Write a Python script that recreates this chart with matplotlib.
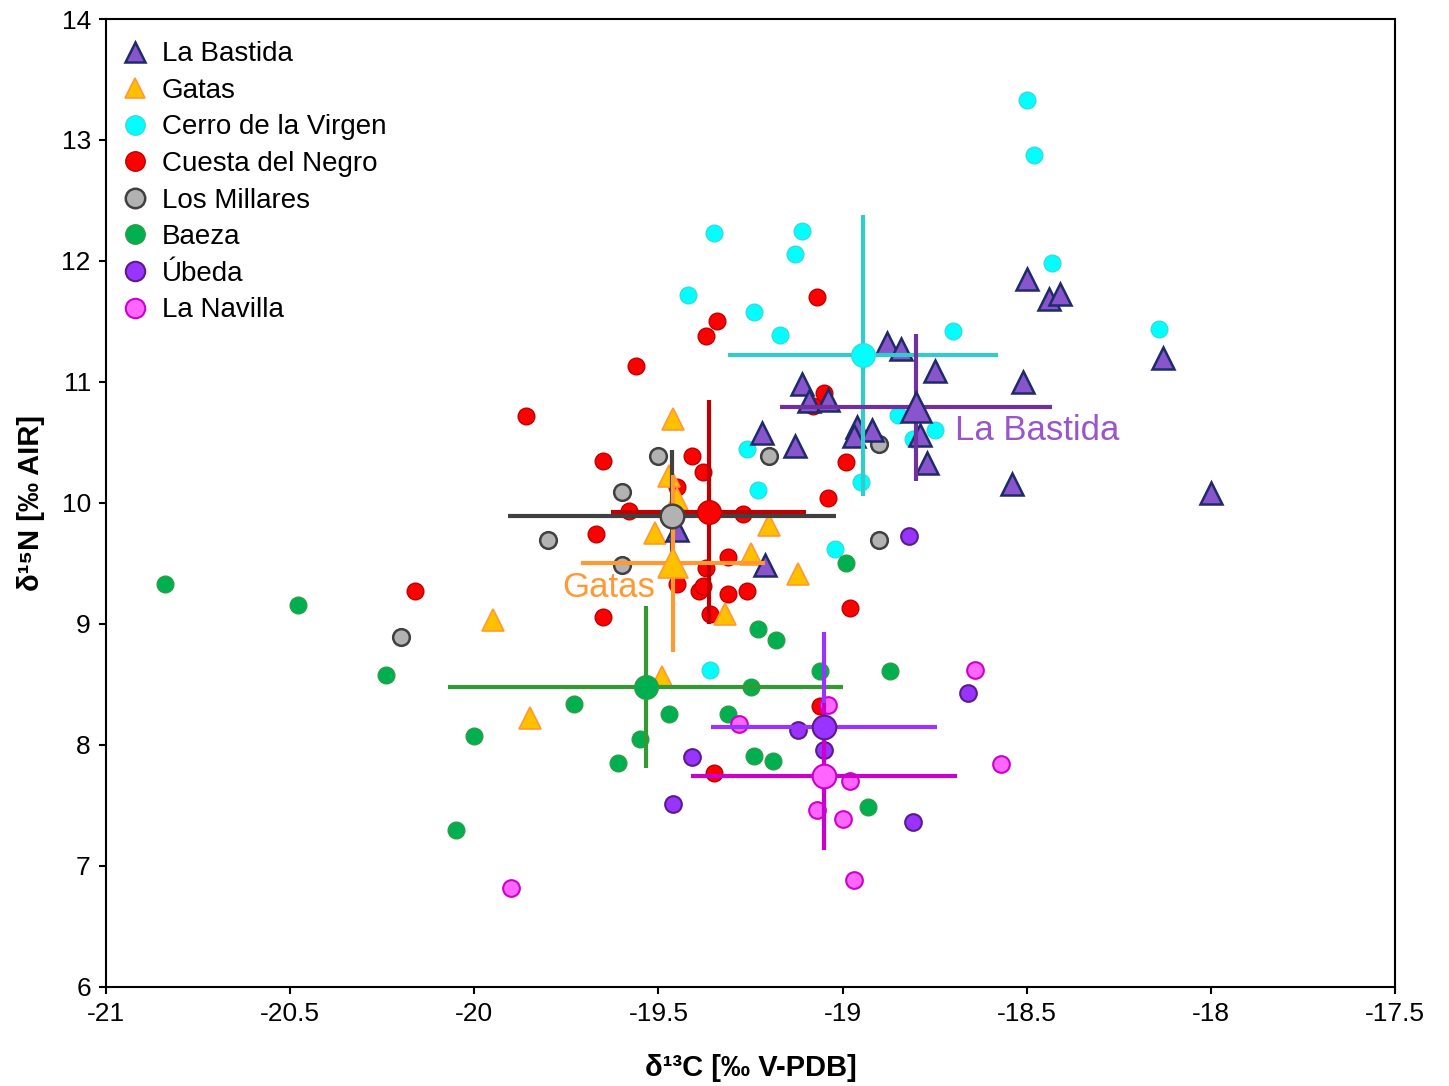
import matplotlib
matplotlib.use('Agg')
import matplotlib.pyplot as plt
from matplotlib.lines import Line2D

plt.rcParams['font.family'] = ['Liberation Sans', 'DejaVu Sans']

# individual samples (d13C, d15N)
bastida_x = [-18.50, -18.44, -18.41, -18.13, -18.51, -18.00, -18.54, -18.88, -18.84, -18.75,
             -18.79, -18.77, -19.11, -19.09, -19.04, -18.96, -18.92, -18.97, -19.13, -19.22,
             -19.45, -19.21]
bastida_y = [11.85, 11.69, 11.73, 11.20, 11.00, 10.08, 10.16, 11.32, 11.27, 11.09,
             10.56, 10.33, 10.98, 10.84, 10.85, 10.63, 10.60, 10.55, 10.47, 10.58,
             9.78, 9.49]

gatas_x = [-19.46, -19.47, -19.45, -19.51, -19.20, -19.25, -19.12, -19.32, -19.95, -19.85, -19.49]
gatas_y = [10.69, 10.22, 10.03, 9.75, 9.82, 9.58, 9.41, 9.08, 9.03, 8.22, 8.56]

cerro_x = [-18.50, -18.48, -19.35, -19.11, -19.13, -18.43, -19.42, -19.24, -18.70, -18.14,
           -19.17, -18.85, -18.75, -18.81, -19.26, -18.95, -19.23, -19.02, -19.36]
cerro_y = [13.33, 12.88, 12.23, 12.25, 12.06, 11.98, 11.72, 11.58, 11.42, 11.44,
           11.39, 10.73, 10.60, 10.53, 10.45, 10.17, 10.11, 9.62, 8.62]

cuesta_x = [-19.07, -19.34, -19.37, -19.56, -19.05, -19.08, -19.86, -19.65, -19.41, -19.38,
            -19.45, -19.58, -19.27, -18.99, -19.04, -19.67, -19.31, -19.37, -19.45, -19.39,
            -19.38, -19.31, -19.26, -19.65, -19.36, -18.98, -20.16, -19.35, -19.06]
cuesta_y = [11.70, 11.50, 11.38, 11.13, 10.91, 10.80, 10.72, 10.35, 10.39, 10.26,
            10.13, 9.93, 9.91, 10.34, 10.04, 9.74, 9.55, 9.46, 9.33, 9.27,
            9.31, 9.25, 9.27, 9.06, 9.08, 9.13, 9.27, 7.77, 8.32]

millares_x = [-19.50, -19.20, -18.90, -19.60, -19.80, -19.60, -18.90, -20.20]
millares_y = [10.39, 10.39, 10.49, 10.09, 9.69, 9.49, 9.69, 8.89]

baeza_x = [-20.84, -20.48, -20.24, -20.00, -20.05, -19.23, -19.18, -19.06, -18.87, -19.25,
           -19.73, -19.47, -19.31, -19.55, -19.61, -19.24, -19.19, -18.93, -18.99]
baeza_y = [9.33, 9.16, 8.58, 8.07, 7.30, 8.96, 8.87, 8.61, 8.61, 8.48,
           8.34, 8.26, 8.26, 8.05, 7.85, 7.91, 7.87, 7.49, 9.50]

ubeda_x = [-18.66, -19.12, -19.05, -19.41, -19.46, -18.81, -18.82]
ubeda_y = [8.43, 8.12, 7.96, 7.90, 7.51, 7.36, 9.73]

navilla_x = [-18.64, -19.04, -19.28, -18.57, -18.98, -19.07, -19.00, -18.97, -19.90]
navilla_y = [8.62, 8.33, 8.17, 7.84, 7.70, 7.46, 7.39, 6.88, 6.82]

# group means and standard deviations
groups = ['La Bastida', 'Gatas', 'Cerro de la Virgen', 'Cuesta del Negro',
          'Los Millares', 'Baeza', 'Úbeda', 'La Navilla']
mean_x = [-18.80, -19.46, -18.945, -19.364, -19.464, -19.535, -19.05, -19.051]
mean_y = [10.79, 9.50, 11.22, 9.925, 9.895, 8.477, 8.149, 7.74]
sd_x = [0.37, 0.25, 0.367, 0.266, 0.445, 0.537, 0.306, 0.361]
sd_y = [0.61, 0.73, 1.16, 0.925, 0.543, 0.67, 0.785, 0.606]

fill = ['#8855cc', '#ffc000', '#00ffff', '#ff0000', '#b2b2b2', '#00b050', '#9933ff', '#ff66ff']
edge = ['#1f2a6b', '#ff9933', '#33dddd', '#c00000', '#404040', '#2e9e44', '#5c1a8c', '#cc00cc']
barc = ['#7030a0', '#ff9933', '#33cccc', '#c00000', '#404040', '#339933', '#9933ff', '#cc00cc']
mark = ['^', '^', 'o', 'o', 'o', 'o', 'o', 'o']
ew = [1.8, 1.2, 1.0, 1.0, 1.8, 1.0, 1.5, 1.5]

xs = [bastida_x, gatas_x, cerro_x, cuesta_x, millares_x, baeza_x, ubeda_x, navilla_x]
ys = [bastida_y, gatas_y, cerro_y, cuesta_y, millares_y, baeza_y, ubeda_y, navilla_y]

fig = plt.figure(figsize=(14.49, 10.86), dpi=100)
ax = fig.add_axes([0.0732, 0.0912, 0.8895, 0.8913])

# points: drawing order so that the triangles sit on top
order = [3, 4, 2, 5, 6, 7, 1, 0]
for i in order:
    ms = 16 if mark[i] == '^' else 12
    ax.plot(xs[i], ys[i], linestyle='none', marker=mark[i], ms=ms,
            mfc=fill[i], mec=edge[i], mew=ew[i], zorder=3)

# error crosses (1 SD) and means
for i in order:
    ax.plot([mean_x[i] - sd_x[i], mean_x[i] + sd_x[i]], [mean_y[i], mean_y[i]],
            color=barc[i], lw=3, zorder=4, solid_capstyle='butt')
    ax.plot([mean_x[i], mean_x[i]], [mean_y[i] - sd_y[i], mean_y[i] + sd_y[i]],
            color=barc[i], lw=3, zorder=4, solid_capstyle='butt')
for i in order:
    ms = 21 if mark[i] == '^' else 17
    ax.plot(mean_x[i], mean_y[i], marker=mark[i], ms=ms, mfc=fill[i], mec=edge[i],
            mew=ew[i], zorder=5)

ax.text(-18.695, 10.60, 'La Bastida', color='#9955cc', fontsize=25, va='center', ha='left')
ax.text(-19.762, 9.30, 'Gatas', color='#ff9933', fontsize=25, va='center', ha='left')

ax.set_xlim(-21, -17.5)
ax.set_ylim(6, 14)
ax.set_xticks([-21, -20.5, -20, -19.5, -19, -18.5, -18, -17.5])
ax.set_xticklabels(['-21', '-20.5', '-20', '-19.5', '-19', '-18.5', '-18', '-17.5'])
ax.set_yticks(range(6, 15))
ax.tick_params(direction='out', length=5, width=1.5, labelsize=19, pad=6)
for s in ax.spines.values():
    s.set_linewidth(1.5)

ax.set_xlabel('δ¹³C [‰ V-PDB]', fontsize=21, fontweight='bold', labelpad=20)
ax.set_ylabel('δ¹⁵N [‰ AIR]', fontsize=21, fontweight='bold', labelpad=12)

handles = [Line2D([], [], linestyle='none', marker=mark[i], ms=14,
                  mfc=fill[i], mec=edge[i], mew=ew[i]) for i in range(8)]
ax.legend(handles, groups, loc='upper left', bbox_to_anchor=(-0.002, 0.997),
          frameon=False, fontsize=20, handlelength=0.9, handletextpad=0.5,
          labelspacing=0.38, borderaxespad=0.2, borderpad=0.5)

plt.savefig('out.png', dpi=100)
